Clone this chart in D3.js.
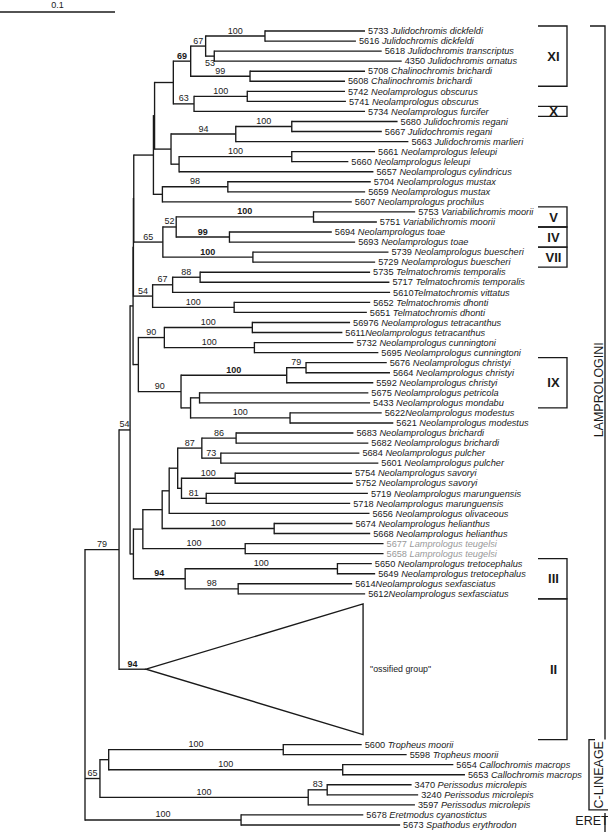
<!DOCTYPE html>
<html><head><meta charset="utf-8">
<script src="https://cdn.jsdelivr.net/npm/d3@7"></script>
<style>
html,body{margin:0;padding:0;background:#fff;}
svg{display:block;font-family:"Liberation Sans",Arial,Helvetica,sans-serif;}
</style></head><body>
<svg id="chart" width="608" height="832"></svg>
<script>
// ---------- DATA ----------
const tipIds = ["5733","5616","5618","4350","5708","5608","5742","5741","5734","5680","5667","5663","5661","5660","5657","5704","5659","5607","5753","5751","5694","5693","5739","5729","5735","5717","5610","5652","5651","56976","5611","5732","5695","5676","5664","5592","5675","5433","5622","5621","5683","5682","5684","5601","5754","5752","5719","5718","5656","5674","5668","5677","5658","5650","5649","5614","5612","5600","5598","5654","5653","3470","3240","3597","5678","5673"];
const tipSpecies = ["Julidochromis dickfeldi","Julidochromis dickfeldi","Julidochromis transcriptus","Julidochromis ornatus","Chalinochromis brichardi","Chalinochromis brichardi","Neolamprologus obscurus","Neolamprologus obscurus","Neolamprologus furcifer","Julidochromis regani","Julidochromis regani","Julidochromis marlieri","Neolamprologus leleupi","Neolamprologus leleupi","Neolamprologus cylindricus","Neolamprologus mustax","Neolamprologus mustax","Neolamprologus prochilus","Variabilichromis moorii","Variabilichromis moorii","Neolamprologus toae","Neolamprologus toae","Neolamprologus buescheri","Neolamprologus buescheri","Telmatochromis temporalis","Telmatochromis temporalis","Telmatochromis vittatus","Telmatochromis dhonti","Telmatochromis dhonti","Neolamprologus tetracanthus","Neolamprologus tetracanthus","Neolamprologus cunningtoni","Neolamprologus cunningtoni","Neolamprologus christyi","Neolamprologus christyi","Neolamprologus christyi","Neolamprologus petricola","Neolamprologus mondabu","Neolamprologus modestus","Neolamprologus modestus","Neolamprologus brichardi","Neolamprologus brichardi","Neolamprologus pulcher","Neolamprologus pulcher","Neolamprologus savoryi","Neolamprologus savoryi","Neolamprologus marunguensis","Neolamprologus marunguensis","Neolamprologus olivaceous","Neolamprologus helianthus","Neolamprologus helianthus","Lamprologus teugelsi","Lamprologus teugelsi","Neolamprologus tretocephalus","Neolamprologus tretocephalus","Neolamprologus sexfasciatus","Neolamprologus sexfasciatus","Tropheus moorii","Tropheus moorii","Callochromis macrops","Callochromis macrops","Perissodus microlepis","Perissodus microlepis","Perissodus microlepis","Eretmodus cyanostictus","Spathodus erythrodon"];
// tips written without a space between number and genus
const tipNoSpace = ["5610","5611","5622","5614","5612"];
const greyTips = ["5677","5658"];
const tipParent = ["n100a","n100a","n53","n53","n99a","n99a","n100b","n100b","n63","n100c","n100c","B94","n100d","n100d","C","n98","n98","D","n100e","n100e","n99b","n99b","n100f","n100f","n88","n88","n67b","n100g","n100g","n100h","n100h","n100i","n100i","n79b","n79b","n100j","M2","M2","n100k","n100k","n86","n86","n73","n73","n100l","n100l","n81","n81","P3","n100m","n100m","n100n","n100n","n100o","n100o","n98b","n98b","n100p","n100p","n100q","n100q","n83","n83","n100r","n100s","n100s"];
const tipLength = [0.0870,0.0791,0.1456,0.1630,0.1000,0.0826,0.0850,0.0858,0.1487,0.0920,0.0783,0.1501,0.0724,0.0492,0.1690,0.1243,0.1194,0.1647,0.0884,0.0551,0.0890,0.1093,0.1179,0.1063,0.1478,0.1646,0.1891,0.1183,0.1154,0.0850,0.0783,0.0861,0.1078,0.0702,0.0730,0.0753,0.1468,0.1483,0.0797,0.0898,0.1020,0.1150,0.1205,0.1370,0.1015,0.1023,0.1406,0.1252,0.1742,0.0681,0.0835,0.1203,0.1203,0.0299,0.0328,0.0991,0.1104,0.0682,0.1073,0.0962,0.1063,0.0734,0.0791,0.0928,0.1063,0.1383];

const nodeNames   = ["n79","n54a","K3","K2","K1","E2","E1","X1","n69","n67","n100a","n53","n99a","n63","n100b","A","B94","n100c","C","n100d","D","n98","n65","n52","n100e","n99b","n100f","n54b","n67b","n88","n100g","H","n90a","n100h","n100i","n90b","n100j","n79b","M1","M2","n100k","L","P1","P2","P3","P4","n87","n86","n73","P5","n100l","n81","n100m","n100n","n94c","n100o","n98b","CL","CL1","n100p","n100q","n100r","n83","n100s"];
const nodeParent  = ["root","n79","n54a","K3","K2","K1","E2","E1","X1","n69","n67","n67","n69","X1","n63","E1","A","B94","A","C","E2","D","K1","n65","n52","n52","n65","K2","n54b","n67b","n54b","K3","H","n90a","n90a","H","n90b","n100j","n90b","M1","M1","n54a","L","P1","P2","P3","P4","n87","n87","P4","P5","P5","P2","P1","L","n94c","n94c","root","CL","CL1","CL1","CL","n100r","root"];
const nodeLength  = [0.0296,0.0096,0.0026,0.0003,0.0003,0.0171,0.0010,0.0163,0.0151,0.0130,0.0516,0.0075,0.0516,0.0180,0.0463,0.0143,0.0563,0.0487,0.0070,0.0980,0.0078,0.0569,0.0253,0.0116,0.1194,0.0463,0.0783,0.0167,0.0174,0.0239,0.0709,0.0046,0.0226,0.0765,0.0783,0.0371,0.0919,0.0168,0.0083,0.0078,0.0865,0.0029,0.0082,0.0168,0.0061,0.0074,0.0210,0.0298,0.0165,0.0033,0.0467,0.0215,0.0974,0.0890,0.0450,0.1324,0.0461,0.0130,0.0076,0.1518,0.2035,0.1811,0.0165,0.1357];
const nodeSupport = [79,54,null,null,null,null,null,null,69,67,100,53,99,63,100,null,94,100,null,100,null,98,65,52,100,99,100,54,67,88,100,null,90,100,100,90,100,79,null,null,100,null,null,null,null,null,87,86,73,null,100,81,100,100,94,100,98,65,null,100,100,100,83,100];
const boldSupport = ["n69","n100e","n99b","n100f","n100j","n94c","II"];
const supportBelow = ["n53"];

// collapsed clade ("ossified group")
const collapsedName = "\"ossified group\"";
const collapsedParent = "n79";
const collapsedLength = 0.0235;
const collapsedDepth = 0.1887;
const collapsedSupport = 94;
const collapsedAfterTip = 56;   // placed after tip index 56
const collapsedSlots = 14;

// clade brackets (tip slot ranges)
const cladeLabels = ["XI","X","V","IV","VII","IX","III","II"];
const cladeFirst  = [0,8,18,20,22,33,53,57];
const cladeLast   = [5,8,19,21,23,37,56,70];
const groupLabels = ["LAMPROLOGINI","C-LINEAGE","ERET"];
const groupFirst  = [0,71,78];
const groupLast   = [70,77,79];
const scaleBarValue = 0.1;

// ---------- LAYOUT ----------
const svg = d3.select("#chart");
const x = d3.scaleLinear().domain([0, 0.1]).range([85, 200]);
const y = d3.scaleLinear().domain([0, 79]).range([31, 825]);
const ink = "#1a1a1a";
const lw = 1.35;

const rows = [{id:"root", parentId:null, len:0}];
nodeNames.forEach((n,i)=>rows.push({id:n, parentId:nodeParent[i], len:nodeLength[i], support:nodeSupport[i]}));
tipIds.forEach((t,i)=>{
  const slot = i <= collapsedAfterTip ? i : i + collapsedSlots;
  rows.push({id:"tip"+i, parentId:tipParent[i], len:tipLength[i], tip:i, slot:slot});
});
rows.push({id:"II", parentId:collapsedParent, len:collapsedLength, support:collapsedSupport,
  collapsed:true, slotA:collapsedAfterTip+1, slotB:collapsedAfterTip+collapsedSlots});

const root = d3.stratify().id(d=>d.id).parentId(d=>d.parentId)(rows);
root.eachBefore(n=>{ n.dist = n.parent ? n.parent.dist + n.data.len : 0; });
root.eachAfter(n=>{
  if (n.data.collapsed) n.yy = y((n.data.slotA + n.data.slotB)/2);
  else if (!n.children) n.yy = y(n.data.slot);
  else {
    const ys = n.children.map(c=>c.yy);
    n.yy = (d3.min(ys)+d3.max(ys))/2;
  }
});

const gTree = svg.append("g").attr("stroke", ink).attr("stroke-width", lw).attr("fill","none");
root.descendants().forEach(n=>{
  if (n.parent) {
    gTree.append("line").attr("x1", x(n.parent.dist)).attr("x2", x(n.dist))
      .attr("y1", n.yy).attr("y2", n.yy);
  }
  if (n.children) {
    const ys = n.children.map(c=>c.yy);
    gTree.append("line").attr("x1", x(n.dist)).attr("x2", x(n.dist))
      .attr("y1", d3.min(ys)-lw/2).attr("y2", d3.max(ys)+lw/2);
  }
  if (n.data.collapsed) {
    const xa = x(n.dist), xb = x(n.dist + collapsedDepth);
    gTree.append("path").attr("stroke-linejoin","miter")
      .attr("d", `M${xa},${n.yy}L${xb},${y(n.data.slotA)}L${xb},${y(n.data.slotB)}Z`);
    svg.append("text").attr("x", xb + 7).attr("y", n.yy).attr("dy","0.35em")
      .attr("font-size", 8.8).attr("fill", ink).text(collapsedName);
  }
});

// support values
root.descendants().forEach(n=>{
  if (!n.parent || n.data.support == null) return;
  const below = supportBelow.includes(n.id);
  svg.append("text")
    .attr("x", (x(n.parent.dist)+x(n.dist))/2)
    .attr("y", below ? n.yy + 9.5 : n.yy - 2.5)
    .attr("text-anchor","middle").attr("font-size", 9)
    .attr("font-weight", boldSupport.includes(n.id) ? "bold" : "normal")
    .attr("fill", ink).text(n.data.support);
});

// tip labels
root.leaves().filter(n=>!n.data.collapsed).forEach(n=>{
  const i = n.data.tip;
  const col = greyTips.includes(tipIds[i]) ? "#9a9a9a" : ink;
  const t = svg.append("text").attr("x", x(n.dist)+3).attr("y", n.yy).attr("dy","0.35em")
    .attr("font-size", 9.2).attr("fill", col);
  t.append("tspan").text(tipIds[i] + (tipNoSpace.includes(tipIds[i]) ? "" : " "));
  t.append("tspan").attr("font-style","italic").text(tipSpecies[i]);
});

// scale bar
const sbw = x(scaleBarValue) - x(0);
svg.append("line").attr("x1",0).attr("x2",sbw).attr("y1",12).attr("y2",12)
  .attr("stroke",ink).attr("stroke-width",lw);
svg.append("text").attr("x", sbw/2).attr("y", 8).attr("text-anchor","middle")
  .attr("font-size",9).attr("fill",ink).text(scaleBarValue);

// clade brackets
const bx0 = 538, bx1 = 567;
const gB = svg.append("g").attr("stroke", ink).attr("stroke-width", lw).attr("fill","none");
cladeLabels.forEach((lab,i)=>{
  const y0 = y(cladeFirst[i]-0.5), y1 = y(cladeLast[i]+0.5);
  gB.append("path").attr("d", `M${bx0},${y0}H${bx1}V${y1}H${bx0}`);
  svg.append("text").attr("x", (bx0+bx1)/2 + 1).attr("y", (y0+y1)/2).attr("dy","0.36em")
    .attr("text-anchor","middle").attr("font-size", 13).attr("font-weight","bold")
    .attr("fill", ink).text(lab);
});

// outer groups
{
  // LAMPROLOGINI
  const y0 = y(groupFirst[0]-0.5), y1 = y(groupLast[0]+0.5);
  gB.append("path").attr("d", `M590,${y0}H605V${y1}`);
  svg.append("text").attr("transform", `translate(598,${(y0+y1)/2 + 7}) rotate(-90)`)
    .attr("text-anchor","middle").attr("dy","0.36em").attr("font-size",12.5)
    .attr("fill", ink).text(groupLabels[0]);
  // C-LINEAGE
  const c0 = y(groupFirst[1]-0.5), c1 = y(groupLast[1]+0.5);
  gB.append("path").attr("d", `M595,${c0}H589V${c1}H608`);
  svg.append("text").attr("transform", `translate(598,${(c0+c1)/2}) rotate(-90)`)
    .attr("text-anchor","middle").attr("dy","0.36em").attr("font-size",12.5)
    .attr("fill", ink).text(groupLabels[1]);
  // ERET
  const e0 = y(groupFirst[2]-0.5), e1 = y(groupLast[2]+0.5);
  gB.append("path").attr("d", `M605,${e0+3}V832`);
  svg.append("text").attr("x", 592).attr("y", (e0+e1)/2+1).attr("dy","0.36em")
    .attr("text-anchor","middle").attr("font-size",12.5)
    .attr("fill", ink).text(groupLabels[2]);
}
</script>
</body></html>
